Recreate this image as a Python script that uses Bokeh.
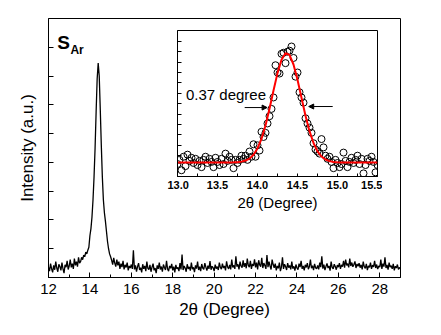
from bokeh.plotting import figure
from bokeh.models import FixedTicker, Range1d, Arrow, NormalHead, CustomJSTickFormatter
from bokeh.embed import file_html
from bokeh.resources import INLINE
from bokeh.core.properties import value

FONT = "Liberation Sans"

# ---------------- main scan: 2theta 12.00 .. 29.00, step 0.05 ----------------
scan_start, scan_step = 12.0, 0.05
intensity = [
    0.35, 0.22, 0.48, 0.30, 0.18, 0.42, 0.27, 0.55, 0.33, 0.20, 0.46, 0.38, 0.25, 0.52, 0.30, 0.15, 0.44, 0.36, 0.58, 0.28,
    0.40, 0.62, 0.35, 0.48, 0.30, 0.66, 0.42, 0.55, 0.38, 0.70, 0.50, 0.55, 0.70, 0.62, 0.78, 0.72, 0.88, 0.82, 0.95, 1.05,
    1.45, 1.70, 2.10, 2.70, 3.50, 4.50, 5.75, 6.90, 7.45, 7.00, 5.85, 4.60, 3.50, 2.70, 2.25, 1.95, 1.60, 1.25, 1.00, 0.82,
    0.72, 0.60, 0.45, 0.68, 0.50, 0.38, 0.62, 0.42, 0.55, 0.30, 0.48, 0.36, 0.58, 0.28, 0.44, 0.35, 0.52, 0.25, 0.40, 0.33,
    0.45, 0.30, 0.95, 0.28, 0.42, 0.20, 0.38, 0.50, 0.26, 0.34, 0.18, 0.46, 0.30, 0.40, 0.22, 0.55, 0.32, 0.27, 0.44, 0.20,
    0.36, 0.48, 0.25, 0.33, 0.15, 0.42, 0.30, 0.52, 0.28, 0.38, 0.20, 0.45, 0.35, 0.26, 0.58, 0.30, 0.22, 0.40, 0.32, 0.47,
    0.25, 0.38, 0.18, 0.44, 0.30, 0.35, 0.22, 0.50, 0.28, 0.80, 0.26, 0.40, 0.33, 0.20, 0.46, 0.30, 0.37, 0.24, 0.52, 0.29,
    0.35, 0.19, 0.42, 0.31, 0.55, 0.26, 0.38, 0.22, 0.47, 0.33, 0.28, 0.50, 0.36, 0.24, 0.41, 0.30, 0.57, 0.27, 0.39, 0.34,
    0.22, 0.45, 0.31, 0.38, 0.26, 0.52, 0.35, 0.29, 0.48, 0.33, 0.40, 0.25, 0.56, 0.37, 0.30, 0.44, 0.28, 0.62, 0.35, 0.42,
    0.30, 0.74, 0.38, 0.46, 0.28, 0.55, 0.40, 0.34, 0.60, 0.37, 0.50, 0.32, 0.66, 0.42, 0.36, 0.58, 0.30, 0.47, 0.40, 0.63,
    0.35, 0.52, 0.28, 0.60, 0.44, 0.38, 0.68, 0.33, 0.50, 0.42, 0.30, 0.78, 0.36, 0.55, 0.40, 0.28, 0.62, 0.45, 0.34, 0.48,
    0.25, 0.40, 0.32, 0.52, 0.22, 0.36, 0.70, 0.30, 0.46, 0.38, 0.26, 0.50, 0.34, 0.42, 0.28, 0.55, 0.31, 0.39, 0.24, 0.45,
    0.33, 0.27, 0.48, 0.36, 0.58, 0.30, 0.40, 0.25, 0.44, 0.35, 0.50, 0.29, 0.38, 0.62, 0.32, 0.41, 0.26, 0.47, 0.34, 0.30,
    0.42, 0.28, 0.52, 0.36, 0.74, 0.31, 0.45, 0.26, 0.38, 0.49, 0.33, 0.40, 0.24, 0.55, 0.35, 0.30, 0.46, 0.38, 0.27, 0.43,
    0.36, 0.50, 0.30, 0.44, 0.38, 0.58, 0.34, 0.62, 0.42, 0.48, 0.35, 0.66, 0.40, 0.52, 0.37, 0.45, 0.56, 0.33, 0.47, 0.39,
    0.50, 0.34, 0.44, 0.28, 0.55, 0.38, 0.32, 0.47, 0.26, 0.40, 0.35, 0.52, 0.30, 0.43, 0.37, 0.58, 0.33, 0.45, 0.29, 0.40,
    0.36, 0.62, 0.30, 0.48, 0.38, 0.70, 0.33, 0.44, 0.27, 0.52, 0.36, 0.41, 0.30, 0.47, 0.25, 0.39, 0.33, 0.45, 0.28, 0.35,
    0.30,
]
two_theta = [round(scan_start + scan_step * i, 3) for i in range(len(intensity))]

main_xticks = [12, 14, 16, 18, 20, 22, 24, 26, 28]
main_xminor = [13, 15, 17, 19, 21, 23, 25, 27, 29]
main_yticks = [1, 2, 3, 4, 5, 6, 7, 8]

# ---------------- inset: measured points, 13.000 .. 15.500 step 0.025 ----------------
pts_start, pts_step = 13.0, 0.025
pts_y = [
    1.2, 1.6, 0.6, 1.9, 1.0, 2.1, 1.5, 1.8, 1.3, 1.7, 1.1, 1.5, 0.9, 1.6, 1.9, 1.3, 1.7,
    1.4, 0.9, 1.8, 1.4, 1.1, 1.7, 1.2, 2.2, 1.5, 1.9, 1.6, 0.8, 1.6, 1.3, 1.6, 2.0, 1.7,
    2.0, 1.6, 2.4, 1.9, 3.1, 1.9, 3.0, 2.5, 4.3, 3.8, 4.2, 5.1, 5.8, 6.5, 7.6,
    10.7, 10.0, 9.9, 11.8, 11.9, 10.9, 12.0, 12.1, 12.5, 11.4, 9.6, 10.0,
    8.1, 7.6, 7.1, 5.6, 5.1, 4.7, 4.2, 3.2, 2.6, 2.4, 2.2, 3.6, 2.8, 2.0, 1.7, 1.9, 1.4, 0.8, 1.6, 1.3,
    0.9, 1.2, 2.3, 1.5, 0.9, 1.4, 1.8, 1.3, 1.6, 2.0, 1.2, 1.7, 0.3, 1.1, 1.7, 1.5, 1.9, 1.4, 0.4, 1.1,
]
pts_x = [round(pts_start + pts_step * i, 4) for i in range(len(pts_y))]

# Gaussian fit curve, 13.00 .. 15.50 step 0.05
fit_start, fit_step = 13.0, 0.05
fit_y = [
    1.35, 1.35, 1.35, 1.35, 1.35, 1.35, 1.35, 1.35, 1.35, 1.35, 1.35, 1.35, 1.35, 1.35,
    1.36, 1.38, 1.43, 1.53, 1.72, 2.09, 2.70, 3.63, 4.91, 6.51, 8.27, 9.94, 11.23, 11.85,
    11.69, 10.77, 9.31, 7.57, 5.85, 4.36, 3.22, 2.42, 1.92, 1.63, 1.48, 1.40, 1.37,
    1.35, 1.35, 1.35, 1.35, 1.35, 1.35, 1.35, 1.35, 1.35, 1.35,
]
fit_x = [round(fit_start + fit_step * i, 3) for i in range(len(fit_y))]

inset_xticks = [13.0, 13.5, 14.0, 14.5, 15.0, 15.5]
inset_xminor = [13.25, 13.75, 14.25, 14.75, 15.25]
inset_yticks = [2, 3, 4, 5, 6, 7, 8, 9, 10, 11, 12, 13]

# ---------------- main figure ----------------
p = figure(width=441, height=335, output_backend="svg", toolbar_location=None,
           title=None, x_range=Range1d(12, 29), y_range=Range1d(0, 9),
           min_border_left=48, min_border_right=41, min_border_top=18, min_border_bottom=58)
p.grid.visible = False
p.outline_line_color = "black"
p.outline_line_width = 1
p.background_fill_color = "white"
p.border_fill_color = "white"

p.line(two_theta, intensity, line_color="black", line_width=1.3)

xa = p.xaxis[0]
xa.ticker = FixedTicker(ticks=main_xticks, minor_ticks=main_xminor)
xa.major_tick_in, xa.major_tick_out = 5, 0
xa.minor_tick_in, xa.minor_tick_out = 3, 0
xa.major_label_text_font = FONT
xa.major_label_text_font_size = "15px"
xa.major_label_text_color = "black"
xa.major_label_standoff = 6
xa.axis_label = "2θ (Degree)"
xa.axis_label_text_font = FONT
xa.axis_label_text_font_size = "17px"
xa.axis_label_text_font_style = "normal"
xa.axis_label_text_color = "black"
xa.axis_label_standoff = 3
xa.axis_line_color = "black"
xa.major_tick_line_color = "black"
xa.minor_tick_line_color = "black"

ya = p.yaxis[0]
ya.ticker = FixedTicker(ticks=main_yticks, minor_ticks=[])
ya.formatter = CustomJSTickFormatter(code="return ''")
ya.major_tick_in, ya.major_tick_out = 5, 0
ya.minor_tick_in, ya.minor_tick_out = 0, 0
ya.major_label_standoff = 0
ya.major_label_text_font_size = "1px"
ya.axis_label = "Intensity (a.u.)"
ya.axis_label_text_font = FONT
ya.axis_label_text_font_size = "17px"
ya.axis_label_text_font_style = "normal"
ya.axis_label_text_color = "black"
ya.axis_label_standoff = 12
ya.axis_line_color = "black"
ya.major_tick_line_color = "black"

p.text(x=[12.42], y=[8.18], text=["S"], text_font=value(FONT), text_font_size="19px",
       text_font_style="bold", text_color="black", text_baseline="alphabetic", text_align="left")
p.text(x=[13.06], y=[7.89], text=["Ar"], text_font=value(FONT), text_font_size="12px",
       text_font_style="bold", text_color="black", text_baseline="alphabetic", text_align="left")

# ---------------- inset figure ----------------
q = figure(frame_width=200, frame_height=146, output_backend="svg", toolbar_location=None,
           title=None, x_range=Range1d(13.0, 15.5), y_range=Range1d(0, 14.04),
           min_border_left=10, min_border_right=5, min_border_top=5, min_border_bottom=40)
q.grid.visible = False
q.outline_line_color = "black"
q.outline_line_width = 1
q.background_fill_color = "white"
q.border_fill_color = None
q.styles = {"position": "absolute", "left": "167px", "top": "25px"}

q.scatter(pts_x, pts_y, marker="circle", size=7, fill_color=None, line_color="black", line_width=1)
q.line(fit_x, fit_y, line_color="red", line_width=2)

q.text(x=[13.106], y=[7.9], text=["0.37 degree"], text_font=value(FONT), text_font_size="15px",
       text_color="black", text_baseline="alphabetic", text_align="left")
q.add_layout(Arrow(end=NormalHead(size=5, fill_color="black", line_color="black"),
                   x_start=13.84, y_start=6.63, x_end=14.12, y_end=6.63,
                   line_color="black", line_width=1))
q.add_layout(Arrow(end=NormalHead(size=5, fill_color="black", line_color="black"),
                   x_start=14.94, y_start=6.73, x_end=14.64, y_end=6.73,
                   line_color="black", line_width=1))

qx = q.xaxis[0]
qx.ticker = FixedTicker(ticks=inset_xticks, minor_ticks=inset_xminor)
qx.formatter = CustomJSTickFormatter(code="return tick.toFixed(1)")
qx.major_tick_in, qx.major_tick_out = 3, 0
qx.minor_tick_in, qx.minor_tick_out = 3, 0
qx.major_label_text_font = FONT
qx.major_label_text_font_size = "11px"
qx.major_label_text_font_style = "bold"
qx.major_label_text_color = "black"
qx.major_label_standoff = 4
qx.axis_label = "2θ (Degree)"
qx.axis_label_text_font = FONT
qx.axis_label_text_font_size = "15px"
qx.axis_label_text_font_style = "normal"
qx.axis_label_text_color = "black"
qx.axis_label_standoff = 2
qx.axis_line_color = "black"

qy = q.yaxis[0]
qy.ticker = FixedTicker(ticks=inset_yticks, minor_ticks=[])
qy.formatter = CustomJSTickFormatter(code="return ''")
qy.major_tick_in, qy.major_tick_out = 4, 0
qy.major_tick_line_color = "black"
qy.major_label_standoff = 0
qy.major_label_text_font_size = "1px"
qy.axis_line_color = "black"

open("out.html", "w").write(file_html([p, q], INLINE))
